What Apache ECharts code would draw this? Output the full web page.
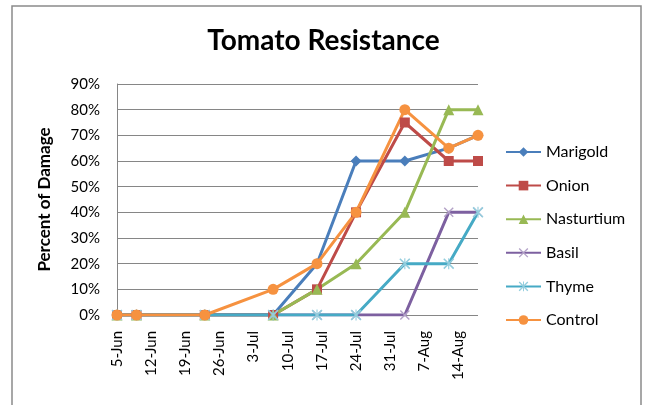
<!DOCTYPE html>
<html>
<head>
<meta charset="utf-8">
<script src="https://cdn.jsdelivr.net/npm/echarts@6/dist/echarts.min.js"></script>
<style>
  html, body { margin: 0; padding: 0; background: #fff; }
  #chart { width: 647px; height: 405px; }
</style>
</head>
<body>
<div id="chart"></div>
<script>
// sample dates (x) and percent damage per plant
const startDate = '2010-06-05'
const dates = ['2010-06-05', '2010-06-09', '2010-06-23', '2010-07-07', '2010-07-16', '2010-07-24', '2010-08-03', '2010-08-12', '2010-08-18']
const marigold = [0, 0, 0, 0, 20, 60, 60, 65, 70]
const onion = [0, 0, 0, 0, 10, 40, 75, 60, 60]
const nasturtium = [0, 0, 0, 0, 10, 20, 40, 80, 80]
const basil = [0, 0, 0, 0, 0, 0, 0, 40, 40]
const thyme = [0, 0, 0, 0, 0, 0, 20, 20, 40]
const control = [0, 0, 0, 10, 20, 40, 80, 65, 70]
const monthNames = ['Jan', 'Feb', 'Mar', 'Apr', 'May', 'Jun', 'Jul', 'Aug', 'Sep', 'Oct', 'Nov', 'Dec']

const DAY = 86400000
const t0 = Date.parse(startDate + 'T00:00:00Z')
const dayOf = (d) => Math.round((Date.parse(d + 'T00:00:00Z') - t0) / DAY)
const pairs = (vals) => dates.map((d, i) => [dayOf(d), vals[i]])

const xMark = 'path://M0,1 L1,0 L10,9 L9,10 Z M9,0 L10,1 L1,10 L0,9 Z'
const starMark = 'path://M0,1 L1,0 L10,9 L9,10 Z M9,0 L10,1 L1,10 L0,9 Z M4.5,0 L5.5,0 L5.5,10 L4.5,10 Z'

const font = 'Lato, "Open Sans", sans-serif'

const mkSeries = (name, vals, color, symbol, size, markColor) => ({
  name,
  type: 'line',
  data: pairs(vals),
  symbol,
  symbolSize: size,
  showAllSymbol: true,
  lineStyle: { color, width: 3 },
  itemStyle: { color: markColor || color, borderWidth: 0 },
  emphasis: { disabled: true },
  animation: false
})

const chart = echarts.init(document.getElementById('chart'), null, { renderer: 'canvas' })

chart.setOption({
  backgroundColor: '#fff',
  animation: false,
  title: {
    text: 'Tomato Resistance',
    left: 'center',
    top: 22,
    textStyle: { fontFamily: font, fontSize: 28, fontWeight: 'bold', color: '#000' }
  },
  graphic: [{
    type: 'rect',
    shape: { x: 12, y: 6, width: 629, height: 420 },
    style: { fill: 'none', stroke: '#8a8a8a', lineWidth: 1.5 },
    silent: true
  }],
  legend: {
    orient: 'vertical',
    left: 500,
    top: 138,
    itemWidth: 35,
    itemHeight: 12,
    itemGap: 15.6,
    textStyle: { fontFamily: font, fontSize: 16, color: '#000', lineHeight: 18 },
    data: ['Marigold', 'Onion', 'Nasturtium', 'Basil', 'Thyme', 'Control']
  },
  grid: { left: 117, right: 169, top: 84, bottom: 90 },
  xAxis: {
    type: 'value',
    min: 0,
    max: 74,
    interval: 7,
    axisLine: { show: false },
    axisTick: { show: false },
    splitLine: { show: false },
    axisLabel: {
      rotate: 90,
      margin: 16,
      showMaxLabel: false,
      fontFamily: font,
      fontSize: 15,
      color: '#000',
      formatter: (v) => {
        if (v % 7 !== 0) return ''
        const d = new Date(t0 + v * DAY)
        return d.getUTCDate() + '-' + monthNames[d.getUTCMonth()]
      }
    }
  },
  yAxis: {
    type: 'value',
    min: 0,
    max: 90,
    interval: 10,
    name: 'Percent of Damage',
    nameLocation: 'middle',
    nameGap: 64,
    nameTextStyle: { fontFamily: font, fontSize: 17, fontWeight: 'bold', color: '#000' },
    axisLine: { show: true, lineStyle: { color: '#868686', width: 1 } },
    axisTick: { show: false },
    splitLine: { lineStyle: { color: '#868686', width: 1 } },
    axisLabel: { fontFamily: font, fontSize: 15, color: '#000', margin: 17, formatter: '{value}%' }
  },
  series: [
    mkSeries('Marigold', marigold, '#4A7EBB', 'diamond', 11),
    mkSeries('Onion', onion, '#BE4B48', 'rect', 10),
    mkSeries('Nasturtium', nasturtium, '#98B954', 'triangle', 11),
    mkSeries('Basil', basil, '#7D60A0', xMark, 10, '#B3A2C7'),
    mkSeries('Thyme', thyme, '#46AAC5', starMark, 11, '#93CDDD'),
    mkSeries('Control', control, '#F69240', 'circle', 11)
  ]
})
</script>
</body>
</html>
